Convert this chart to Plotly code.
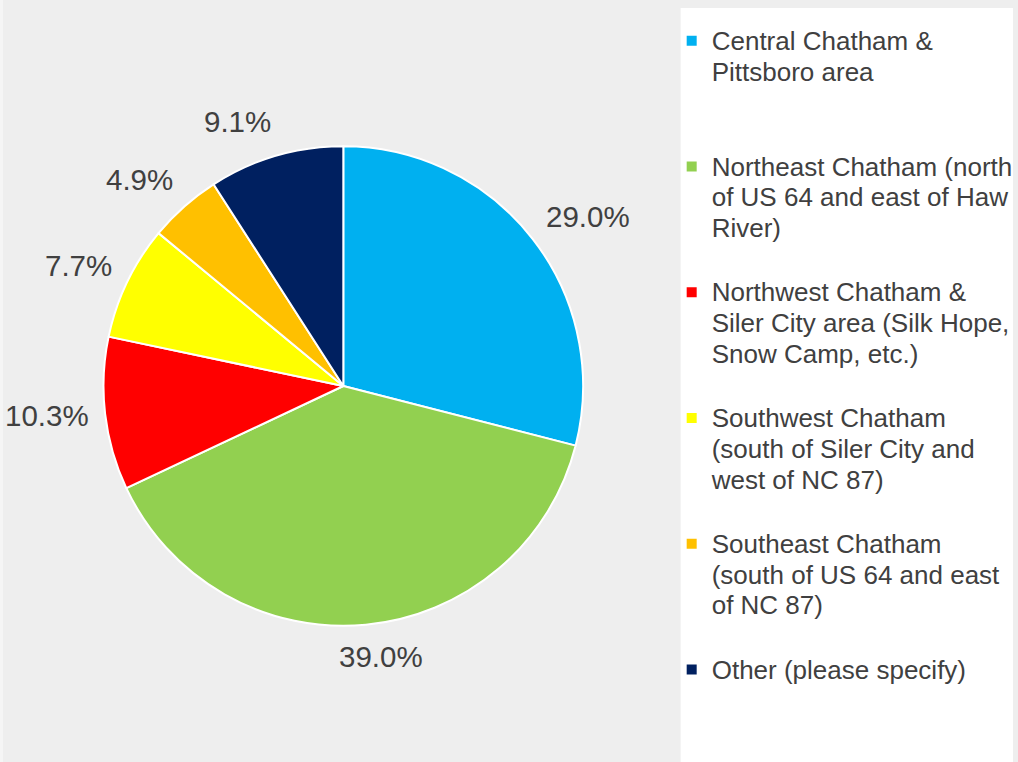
import math
import plotly.graph_objects as go

categories = [
    "Central Chatham &amp;<br>Pittsboro area",
    "Northeast Chatham (north<br>of US 64 and east of Haw<br>River)",
    "Northwest Chatham &amp;<br>Siler City area (Silk Hope,<br>Snow Camp, etc.)",
    "Southwest Chatham<br>(south of Siler City and<br>west of NC 87)",
    "Southeast Chatham<br>(south of US 64 and east<br>of NC 87)",
    "Other (please specify)",
]
values = [29.0, 39.0, 10.3, 7.7, 4.9, 9.1]
colors = ["#00B0F0", "#92D050", "#FF0000", "#FFFF00", "#FFC000", "#002060"]

W, H = 1018, 762
TEXT = "#404040"
FONT = "Liberation Sans, Arial, sans-serif"
LEG_GLYPH = 26
LEG_LINES = 4
LABEL_SIZE = 29.5


def legend_label(name):
    lines = name.split("<br>")
    lines += ["&nbsp;"] * (LEG_LINES - len(lines))
    return "<br>".join(f'<span style="font-size:{LEG_GLYPH}px">{ln}</span>' for ln in lines)


labels = [legend_label(c) for c in categories]
labels[-1] = f'<span style="font-size:{LEG_GLYPH}px">{categories[-1]}</span>'

cx, cy, r = 345, 386, 241
fig = go.Figure(
    go.Pie(
        labels=labels,
        values=values,
        sort=False,
        direction="clockwise",
        rotation=0,
        marker=dict(colors=colors, line=dict(color="white", width=2)),
        textinfo="none",
        domain=dict(x=[(cx - r) / W, (cx + r) / W], y=[(H - cy - r) / H, (H - cy + r) / H]),
        hoverinfo="label+percent",
    )
)

# Outside-end data labels (Excel style), placed from the slice mid-angles
CHAR_W = {"0": 0.556, "1": 0.556, "2": 0.556, "3": 0.556, "4": 0.556, "5": 0.556,
          "6": 0.556, "7": 0.556, "8": 0.556, "9": 0.556, ".": 0.278, "%": 0.889}
total = sum(values)
cum = 0.0
annotations = []
for v in values:
    theta = 2 * math.pi * (cum + v / 2) / total
    cum += v
    txt = f"{100 * v / total:.1f}%"
    hw = sum(CHAR_W[c] for c in txt) * LABEL_SIZE / 2
    hh = 15.5
    R = r + 17
    s, c = math.sin(theta), math.cos(theta)
    px = cx + R * s + hw * max(-1.0, min(1.0, 3.5 * s))
    py = cy - R * c - hh * c - 2
    annotations.append(dict(
        x=px / W, y=1 - py / H, xref="paper", yref="paper", text=txt, showarrow=False,
        xanchor="center", yanchor="middle",
        font=dict(size=LABEL_SIZE, color=TEXT, family=FONT),
    ))

fig.update_layout(
    width=W,
    height=H,
    margin=dict(l=0, r=0, t=0, b=0),
    paper_bgcolor="#EEEEEE",
    plot_bgcolor="#EEEEEE",
    font=dict(family=FONT, color=TEXT),
    showlegend=True,
    legend=dict(
        x=675 / W,
        y=1 - 19 / H,
        xanchor="left",
        yanchor="top",
        bgcolor="rgba(0,0,0,0)",
        font=dict(size=23.6, color=TEXT, family=FONT),
        valign="top",
        traceorder="normal",
    ),
    annotations=annotations,
    shapes=[
        dict(type="rect", xref="paper", yref="paper", x0=684 / W, x1=1, y0=0, y1=1 - 8 / H,
             fillcolor="white", line=dict(width=0), layer="below"),
        dict(type="rect", xref="paper", yref="paper", x0=0, x1=3 / W, y0=0, y1=1,
             fillcolor="#F5F5F5", line=dict(width=0), layer="below"),
    ],
)

fig.write_html(
    "out.html",
    config={"displayModeBar": False},
    post_script="document.body.style.margin='0';document.body.style.overflow='hidden';",
)
